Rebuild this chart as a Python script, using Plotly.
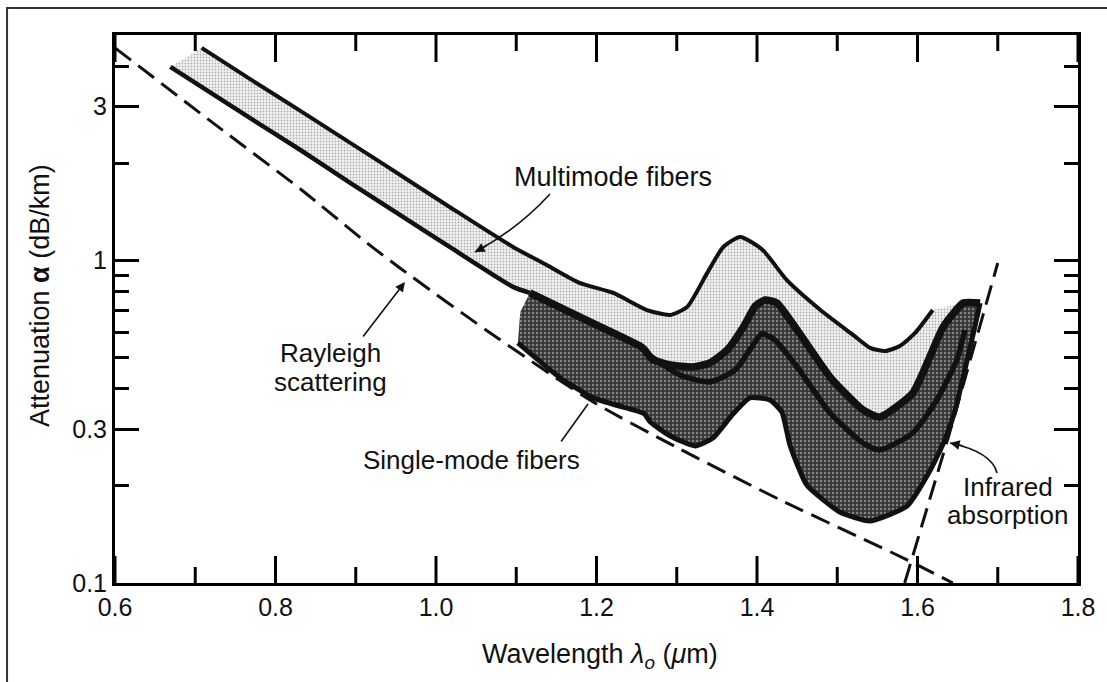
import plotly.graph_objects as go

# ---------------- data ----------------
# Rayleigh scattering limit (dashed)
ray_x = [0.600, 0.727, 0.831, 0.914, 0.955, 1.064, 1.196, 1.304, 1.429, 1.587, 1.644]
ray_y = [4.56, 2.613, 1.666, 1.133, 0.948, 0.6045, 0.364, 0.2603, 0.181, 0.118, 0.100]

# Infrared absorption limit (dashed)
ir_x = [1.584, 1.640, 1.700]
ir_y = [0.100, 0.292, 0.982]

# Multimode fibers: upper boundary
mm_up_x = [0.708, 0.768, 0.831, 0.934, 1.017, 1.096, 1.138, 1.179, 1.221, 1.263, 1.292, 1.313,
           1.338, 1.358, 1.379, 1.407, 1.437, 1.479, 1.520, 1.541, 1.560, 1.578, 1.597, 1.619]
mm_up_y = [4.56, 3.654, 2.908, 1.992, 1.465, 1.101, 0.968, 0.852, 0.793, 0.702, 0.678, 0.718,
           0.915, 1.101, 1.183, 1.078, 0.870, 0.702, 0.587, 0.536, 0.524, 0.543, 0.596, 0.702]

# Multimode lower boundary, continuing as single-mode upper boundary
mid_x = [0.669, 0.768, 0.831, 0.893, 0.955, 1.017, 1.096, 1.117, 1.192, 1.254, 1.260, 1.269, 1.292, 1.320,
         1.341, 1.363, 1.383, 1.398, 1.410, 1.425, 1.450, 1.491, 1.532, 1.553, 1.594, 1.632, 1.657]
mid_y = [3.98, 2.766, 2.20, 1.739, 1.384, 1.101, 0.828, 0.793, 0.645, 0.543, 0.528, 0.495, 0.474, 0.4675,
         0.481, 0.528, 0.622, 0.723, 0.754, 0.738, 0.609, 0.435, 0.344, 0.327, 0.388, 0.622, 0.738]
SM_START = 7  # index where the single-mode band begins

# Single-mode fibers: inner curve
sm_in_x = [1.260, 1.304, 1.341, 1.373, 1.391, 1.406, 1.422, 1.450, 1.491, 1.532, 1.553, 1.594, 1.624, 1.649, 1.659]
sm_in_y = [0.520, 0.4416, 0.420, 0.4575, 0.528, 0.592, 0.567, 0.4675, 0.3366, 0.2716, 0.2585, 0.2918, 0.3694, 0.4914, 0.609]

# Single-mode fibers: lower boundary
sm_lo_x = [1.102, 1.155, 1.196, 1.254, 1.260, 1.267, 1.292, 1.323, 1.345, 1.370, 1.391, 1.416, 1.431, 1.441,
           1.462, 1.503, 1.541, 1.587, 1.616, 1.634, 1.647, 1.659, 1.672, 1.678]
sm_lo_y = [0.555, 0.432, 0.375, 0.339, 0.334, 0.3156, 0.2856, 0.266, 0.2815, 0.334, 0.375, 0.3694, 0.339, 0.2679,
           0.2013, 0.1661, 0.1557, 0.1733, 0.224, 0.2775, 0.344, 0.4575, 0.631, 0.738]
sm_edge_x = [1.105]
sm_edge_y = [0.692]

x_ticks = [0.6, 0.8, 1.0, 1.2, 1.4, 1.6, 1.8]
x_ticktext = ["0.6", "0.8", "1.0", "1.2", "1.4", "1.6", "1.8"]
x_minor = [0.7, 0.9, 1.1, 1.3, 1.5, 1.7]
y_ticks = [0.1, 0.3, 1, 3]
y_ticktext = ["0.1", "0.3", "1", "3"]
y_minor = [0.2, 0.4, 0.5, 0.6, 0.7, 0.8, 0.9, 2, 4]
Y_MIN, Y_MAX = 0.1, 5.0

FONT = "Liberation Sans, Arial, Helvetica, sans-serif"

# ---------------- figure ----------------
fig = go.Figure()

# light stipple band (multimode)
fig.add_trace(go.Scatter(
    x=mm_up_x + mid_x[::-1], y=mm_up_y + mid_y[::-1],
    mode="lines", fill="toself", line=dict(width=0),
    fillcolor="rgba(0,0,0,0)",
    fillpattern=dict(shape=".", fgcolor="#666666", bgcolor="#f4f4f4", size=3, solidity=0.28),
    hoverinfo="skip"))

# dark stipple band (single-mode)
fig.add_trace(go.Scatter(
    x=mid_x[SM_START:] + sm_lo_x[::-1] + sm_edge_x,
    y=mid_y[SM_START:] + sm_lo_y[::-1] + sm_edge_y,
    mode="lines", fill="toself", line=dict(width=0),
    fillcolor="rgba(0,0,0,0)",
    fillpattern=dict(shape=".", fgcolor="#d0d0d0", bgcolor="#363636", size=4, solidity=0.3),
    hoverinfo="skip"))

black = "#111111"
# curves
fig.add_trace(go.Scatter(x=mm_up_x, y=mm_up_y, mode="lines",
                         line=dict(color=black, width=4, shape="spline", smoothing=0.6), hoverinfo="skip"))
fig.add_trace(go.Scatter(x=mid_x[:SM_START + 1], y=mid_y[:SM_START + 1], mode="lines",
                         line=dict(color=black, width=4.5, shape="spline", smoothing=0.6), hoverinfo="skip"))
fig.add_trace(go.Scatter(x=mid_x[SM_START:] + [sm_lo_x[-1]], y=mid_y[SM_START:] + [sm_lo_y[-1]], mode="lines",
                         line=dict(color=black, width=7.5, shape="spline", smoothing=0.5), hoverinfo="skip"))
fig.add_trace(go.Scatter(x=sm_in_x, y=sm_in_y, mode="lines",
                         line=dict(color=black, width=5.5, shape="spline", smoothing=0.6), hoverinfo="skip"))
fig.add_trace(go.Scatter(x=sm_lo_x, y=sm_lo_y, mode="lines",
                         line=dict(color=black, width=5, shape="spline", smoothing=0.5), hoverinfo="skip"))

# dashed limits
fig.add_trace(go.Scatter(x=ray_x, y=ray_y, mode="lines",
                         line=dict(color=black, width=3, dash="20px,9px", shape="spline", smoothing=0.7),
                         hoverinfo="skip"))
fig.add_trace(go.Scatter(x=ir_x, y=ir_y, mode="lines",
                         line=dict(color=black, width=3, dash="20px,9px"), hoverinfo="skip"))

# x-axis tick marks (inside, bottom and top) drawn as a line trace at the tick values
PLOT_H = 682 - 35 - 99
DECADE_PX = PLOT_H / 1.69897
tx, ty = [], []
for vals, length in [(x_ticks, 27), (x_minor, 16)]:
    f = 10 ** (length / DECADE_PX)
    for v in vals:
        tx += [v, v, None, v, v, None]
        ty += [Y_MIN, Y_MIN * f, None, Y_MAX, Y_MAX / f, None]
fig.add_trace(go.Scatter(x=tx, y=ty, mode="lines", line=dict(color="black", width=3),
                         hoverinfo="skip", connectgaps=False))

tickfont = dict(family=FONT, size=25, color="#111")
yminor = dict(tickmode="array", tickvals=y_minor, ticks="inside", ticklen=14,
              tickwidth=3, tickcolor="black", showgrid=False)

fig.update_layout(
    xaxis=dict(range=[0.6, 1.8], tickmode="array", tickvals=x_ticks, ticktext=x_ticktext,
               ticks="", showline=True, linewidth=3, linecolor="black", mirror=True,
               showgrid=False, zeroline=False, tickfont=tickfont),
    yaxis=dict(type="log", range=[-1, 0.69897], tickmode="array", tickvals=y_ticks, ticktext=y_ticktext,
               ticklen=24, ticks="inside", tickwidth=3, tickcolor="black", minor=yminor,
               showline=True, linewidth=3, linecolor="black", mirror="ticks",
               showgrid=False, zeroline=False, tickfont=tickfont),
)

txt = dict(family=FONT, size=26, color="#111")
ttl = dict(family=FONT, size=27, color="#111")
annots = [
    dict(text="Multimode fibers", x=0.5171, y=0.7409, font=ttl),
    dict(text="Rayleigh", x=0.2233, y=0.4197, font=txt),
    dict(text="scattering", x=0.2233, y=0.3668, font=txt),
    dict(text="Single-mode fibers", x=0.3697, y=0.2245, font=txt),
    dict(text="Infrared", x=0.9273, y=0.1752, font=txt),
    dict(text="absorption", x=0.9263, y=0.1241, font=txt),
    dict(text="Wavelength <i>λ</i><sub><i>o</i></sub> (<i>μ</i>m)", x=0.5036, y=-0.1332, font=ttl),
]
for a in annots:
    fig.add_annotation(xref="paper", yref="paper", showarrow=False,
                       xanchor="center", yanchor="middle", **a)
fig.add_annotation(xref="paper", yref="paper", x=-0.0779, y=0.5255, showarrow=False, textangle=-90,
                   text="Attenuation <b>α</b> (dB/km)", font=ttl, xanchor="center", yanchor="middle")

# straight pointers
fig.add_annotation(xref="paper", yref="paper", x=0.3011, y=0.5493, ax=-43, ay=56, text="",
                   showarrow=True, arrowhead=2, arrowsize=1.2, arrowwidth=1.6, arrowcolor=black)
fig.add_annotation(xref="paper", yref="paper", x=0.4912, y=0.3266, ax=-28, ay=39, text="",
                   showarrow=True, arrowhead=0, arrowwidth=1.6, arrowcolor=black)

# curved pointers
fig.add_shape(type="path", xref="paper", yref="paper",
              path="M 0.4517 0.7099 Q 0.4185 0.6460 0.3738 0.6040",
              line=dict(color=black, width=1.6))
fig.add_annotation(xref="paper", yref="paper", x=0.3738, y=0.6040, ax=13, ay=-7, text="",
                   showarrow=True, arrowhead=2, arrowsize=1.2, arrowwidth=1.6, arrowcolor=black)
fig.add_shape(type="path", xref="paper", yref="paper",
              path="M 0.9159 0.2007 Q 0.9107 0.2391 0.8671 0.2555",
              line=dict(color=black, width=1.6))
fig.add_annotation(xref="paper", yref="paper", x=0.8671, y=0.2555, ax=14, ay=3, text="",
                   showarrow=True, arrowhead=2, arrowsize=1.2, arrowwidth=1.6, arrowcolor=black)

# outer frame of the figure
fig.add_shape(type="rect", xref="paper", yref="paper", x0=-0.1121, x1=1.05, y0=-0.2, y1=1.0493,
              line=dict(color="#333", width=2), fillcolor="rgba(0,0,0,0)")

fig.update_layout(width=1107, height=682, margin=dict(l=115, r=29, t=35, b=99),
                  plot_bgcolor="white", paper_bgcolor="white", showlegend=False,
                  font=dict(family=FONT, color="#111"))

fig.write_html("out.html")
